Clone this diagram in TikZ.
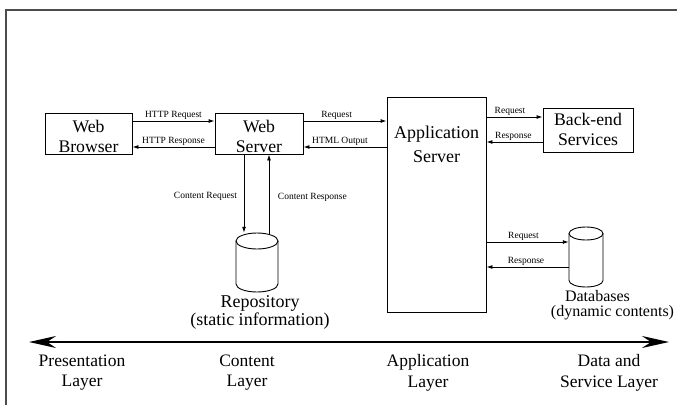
\documentclass[tikz,border=0pt]{standalone}
\usepackage{fontspec}
\setmainfont{Liberation Serif}
\usetikzlibrary{arrows.meta}
\tikzset{axhead/.tip={Stealth[length=27pt,width=12pt,inset=9pt]}}
\begin{document}
\begin{tikzpicture}[x=1pt,y=-1pt,
  box/.style={draw, line width=0.9pt, inner sep=0pt},
  big/.style={font=\fontsize{17.7}{20}\selectfont, align=center, inner sep=0pt, anchor=south},
  small/.style={font=\fontsize{9.5}{11}\selectfont, inner sep=1.5pt},
  arr/.style={line width=0.9pt, -{Latex[length=6pt,width=4pt]}},
  layer/.style={font=\fontsize{17.5}{20.5}\selectfont, align=center, inner sep=0pt, anchor=north},
  drum/.style={line width=0.9pt},
]
\useasboundingbox (0,0) rectangle (677,405);
\fill[white] (0,0) rectangle (677,405);

% frame edges
\draw[line width=1.4pt, black!70] (6,405) -- (6,10) -- (677,10);

% boxes
\node[box, minimum width=87pt, minimum height=41pt] (wb) at (88.5,133.5) {};
\node[box, minimum width=88pt, minimum height=41pt] (ws) at (259,133.5) {};
\node[box, minimum width=99pt, minimum height=215pt] (app) at (436.5,204.5) {};
\node[box, minimum width=90pt, minimum height=44pt] (be) at (588,130) {};

\node[big] (wbt) at (88.5,152.5) {Web\\Browser};
\node[big] (wst) at (259,152.5) {Web\\Server};
\node[big, font=\fontsize{18}{24}\selectfont] (appt) at (436.5,162.5) {Application\\Server};
\node[big] (bet) at (588,146) {Back-end\\Services};

% repository cylinder
\node[inner sep=0pt, minimum width=42pt, minimum height=59pt] (rep) at (257,262.5) {};
\draw[drum] (257,241) ellipse [x radius=21, y radius=8];
\draw[drum] (236,241) -- (236,284) arc[start angle=180, end angle=0, x radius=21, y radius=8] -- (278,241);

% database cylinder
\node[inner sep=0pt, minimum width=34pt, minimum height=60pt] (db) at (586,257) {};
\draw[drum] (586,233.5) ellipse [x radius=17, y radius=6.5];
\draw[drum] (569,233.5) -- (569,280.5) arc[start angle=180, end angle=0, x radius=17, y radius=6.5] -- (603,233.5);

\node[anchor=north, inner sep=0pt, align=center, font=\fontsize{18}{16}\selectfont] (rept) at (260,295.5) {Repository\\(static information)};
\node[anchor=base, inner sep=0pt, font=\fontsize{16}{16}\selectfont] (dbt1) at (597.5,301.5) {Databases};
\node[anchor=base, inner sep=0pt, font=\fontsize{16}{16}\selectfont] (dbt2) at (612.5,316.5) {(dynamic contents)};

% browser <-> web server
\draw[arr] ([yshift=12.5pt]wb.east) -- node[small, above] {HTTP Request} ([yshift=12.5pt]wb.east -| ws.west);
\draw[arr] ([yshift=-13.5pt]ws.west) -- node[small, above] {HTTP Response} ([yshift=-13.5pt]ws.west -| wb.east);

% web server <-> application server
\draw[arr] ([yshift=12.5pt]ws.east) -- node[small, above, pos=0.4] {Request} ([yshift=12.5pt]ws.east -| app.west);
\draw[arr] ([yshift=-13.5pt]ws.east -| app.west) -- node[small, above, pos=0.56] {HTML Output} ([yshift=-13.5pt]ws.east);

% application server <-> back-end services
\draw[arr] ([yshift=13pt]be.west -| app.east) -- node[small, above, pos=0.42] {Request} ([yshift=13pt]be.west);
\draw[arr] ([yshift=-12pt]be.west) -- node[small, above, pos=0.52] {Response} ([yshift=-12pt]be.west -| app.east);

% application server <-> databases
\draw[arr] ([yshift=15pt]db.west -| app.east) -- node[small, above, pos=0.45] {Request} ([yshift=15pt]db.west);
\draw[arr] ([yshift=-10pt]db.west) -- node[small, above, pos=0.52] {Response} ([yshift=-10pt]db.west -| app.east);

% web server <-> repository
\draw[arr] ([xshift=-15pt]ws.south) -- node[small, left=5pt, pos=0.54] {Content Request} ([xshift=-15pt]ws.south |- rep.north);
\draw[arr] ([xshift=10pt,yshift=-1.5pt]ws.south |- rep.north) -- node[small, right=7pt, pos=0.46] {Content Response} ([xshift=10pt]ws.south);

% layer axis
\coordinate (axl) at (29,342);
\coordinate (axr) at (669,342);
\draw[line width=1.6pt, {axhead}-{axhead}] (axl) -- (axr);

\node[layer] (l1) at (82,354.5) {Presentation\\Layer};
\node[layer] (l2) at (247,354.5) {Content\\Layer};
\node[layer] (l3) at (428,354.5) {Application\\Layer};
\node[layer] (l4) at (609,354.5) {Data and\\Service Layer};
\end{tikzpicture}
\end{document}
